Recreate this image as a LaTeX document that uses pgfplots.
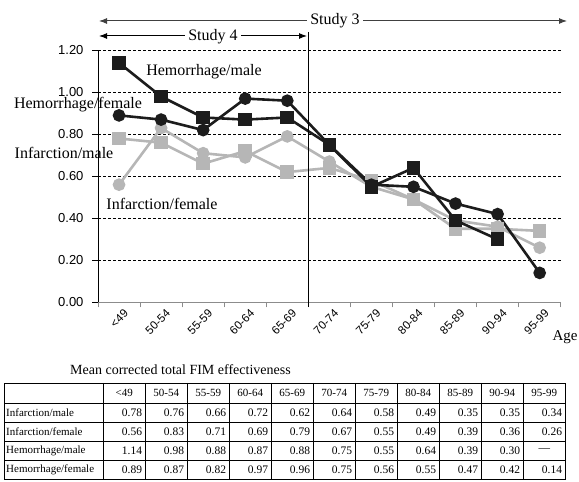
\documentclass[border=0pt]{standalone}
\usepackage{fontspec}
\setmainfont{Liberation Serif}
\newfontfamily\arial{Liberation Sans}
\usepackage{pgfplots}
\pgfplotsset{compat=1.18}
\usetikzlibrary{arrows.meta}
\definecolor{sgray}{HTML}{B6B6B6}
\definecolor{sblack}{HTML}{1C1C1C}
\definecolor{axgray}{HTML}{8C8C8C}
\definecolor{arrgray}{HTML}{404040}
\newcommand{\fs}[1]{\fontsize{#1}{#1}\selectfont}
\begin{document}
\begin{tikzpicture}[x=1pt,y=1pt]
\useasboundingbox (0,0) rectangle (579,482);
\begin{axis}[
  at={(98pt,179.7pt)}, anchor=south west,
  scale only axis, width=462.7pt, height=252pt,
  xmin=-0.5, xmax=10.5, ymin=0, ymax=1.2,
  clip=false,
  axis x line=bottom, axis y line=left,
  axis line style={-},
  x axis line style={draw=axgray, line width=1.3pt},
  y axis line style={draw=black, line width=0.8pt},
  xtick={0,...,10},
  xticklabels={<49,50-54,55-59,60-64,65-69,70-74,75-79,80-84,85-89,90-94,95-99},
  major x tick style={draw=none},
  minor xtick={-0.5,0.5,...,10.5},
  minor x tick style={draw=axgray, line width=1pt},
  minor tick length=5pt,
  tick align=outside,
  ytick={0,0.2,...,1.21},
  major y tick style={draw=black, line width=0.8pt},
  major tick length=6pt,
  ymajorgrids,
  major grid style={draw=black, line width=0.6pt, dash pattern=on 3pt off 2pt},
  /pgf/number format/assume math mode=true,
  yticklabel style={font=\arial\fs{13}, xshift=-5pt, /pgf/number format/fixed, /pgf/number format/fixed zerofill, /pgf/number format/precision=2},
  xticklabel style={font=\arial\fs{11.5}, rotate=45, anchor=north east, inner sep=1pt, xshift=4pt, yshift=-2pt},
]
\addplot[color=sgray, line width=2.6pt, mark=square*, mark size=5.5pt, mark options={solid}]
  coordinates {(0,0.78)(1,0.76)(2,0.66)(3,0.72)(4,0.62)(5,0.64)(6,0.58)(7,0.49)(8,0.35)(9,0.35)(10,0.34)};
\addplot[color=sgray, line width=2.6pt, mark=*, mark size=5pt, mark options={solid}]
  coordinates {(0,0.56)(1,0.83)(2,0.71)(3,0.69)(4,0.79)(5,0.67)(6,0.55)(7,0.49)(8,0.39)(9,0.36)(10,0.26)};
\addplot[color=sblack, line width=2.6pt, mark=square*, mark size=5.5pt, mark options={solid}]
  coordinates {(0,1.14)(1,0.98)(2,0.88)(3,0.87)(4,0.88)(5,0.75)(6,0.55)(7,0.64)(8,0.39)(9,0.30)};
\addplot[color=sblack, line width=2.6pt, mark=*, mark size=5pt, mark options={solid}]
  coordinates {(0,0.89)(1,0.87)(2,0.82)(3,0.97)(4,0.96)(5,0.75)(6,0.56)(7,0.55)(8,0.47)(9,0.42)(10,0.14)};
\end{axis}
% study arrows
\draw[arrgray, line width=1pt, {Latex[length=8pt,width=6pt]}-{Latex[length=8pt,width=6pt]}] (99,461) -- (567,461);
\node[fill=white, inner sep=3pt, font=\fs{16}] at (335,461) {Study 3};
\draw[black, line width=1pt, {Latex[length=8pt,width=6pt]}-{Latex[length=8pt,width=6pt]}] (99,446) -- (307,446);
\node[fill=white, inner sep=3pt, font=\fs{16}] at (213,445) {Study 4};
\draw[black, line width=0.8pt] (308,450) -- (308,175);
% series labels
\node[font=\fs{16}] at (204,410) {Hemorrhage/male};
\node[font=\fs{16}] at (78,377) {Hemorrhage/female};
\node[font=\fs{16}] at (64,329) {Infarction/male};
\node[font=\fs{16}] at (162,278) {Infarction/female};
\node[font=\fs{15}] at (565,145) {Age};
% table
\node[anchor=west, font=\fs{14}, inner sep=0pt] at (70,112) {Mean corrected total FIM effectiveness};
\draw[black, line width=0.6pt] (4,99) rectangle (565.3,3);
\foreach \yy in {79,60,41,22} \draw[black, line width=0.6pt] (4,\yy) -- (565.3,\yy);
\foreach \k in {0,...,10} \draw[black, line width=0.6pt] (103.3+42*\k,99) -- (103.3+42*\k,3);
\foreach \h [count=\i from 0] in {<49,50-54,55-59,60-64,65-69,70-74,75-79,80-84,85-89,90-94,95-99}
  \node[font=\fs{11}] at (124.3+42*\i,89) {\h};
\foreach \lab [count=\r from 0] in {Infarction/male,Infarction/female,Hemorrhage/male,Hemorrhage/female}
  \node[anchor=west, font=\fs{11}, inner sep=0pt] at (6,69.5-19*\r) {\lab};
\foreach \v [count=\i from 0] in {0.78,0.76,0.66,0.72,0.62,0.64,0.58,0.49,0.35,0.35,0.34}
  \node[anchor=east, font=\fs{11.5}, inner sep=0pt] at (142.3+42*\i,69.5) {\v};
\foreach \v [count=\i from 0] in {0.56,0.83,0.71,0.69,0.79,0.67,0.55,0.49,0.39,0.36,0.26}
  \node[anchor=east, font=\fs{11.5}, inner sep=0pt] at (142.3+42*\i,50.5) {\v};
\foreach \v [count=\i from 0] in {1.14,0.98,0.88,0.87,0.88,0.75,0.55,0.64,0.39,0.30}
  \node[anchor=east, font=\fs{11.5}, inner sep=0pt] at (142.3+42*\i,31.5) {\v};
\node[font=\fs{11.5}] at (544.3,31.5) {—};
\foreach \v [count=\i from 0] in {0.89,0.87,0.82,0.97,0.96,0.75,0.56,0.55,0.47,0.42,0.14}
  \node[anchor=east, font=\fs{11.5}, inner sep=0pt] at (142.3+42*\i,12.5) {\v};
\end{tikzpicture}
\end{document}
